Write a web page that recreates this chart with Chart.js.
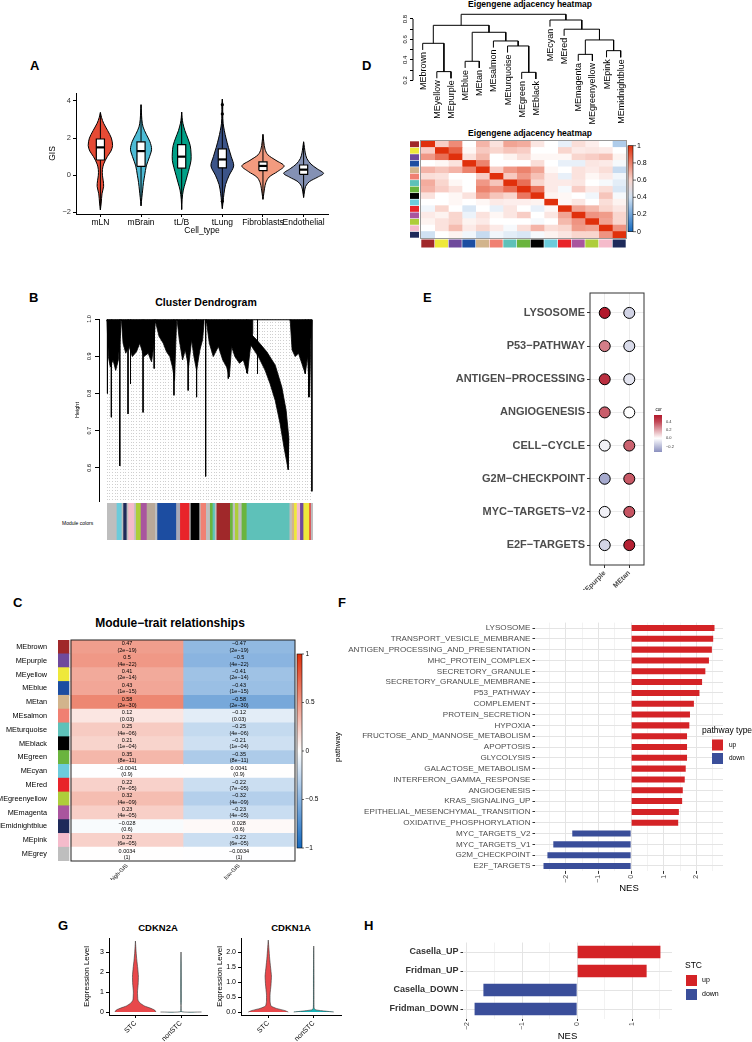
<!DOCTYPE html>
<html>
<head>
<meta charset="utf-8">
<title>GIS / WGCNA figure</title>
<script src="https://cdn.jsdelivr.net/npm/chart.js@4.4.1/dist/chart.umd.min.js"></script>
<style>
  body { margin: 0; width: 752px; height: 1042px; position: relative; overflow: hidden; background: #fff; font-family: "Liberation Sans", Arial, sans-serif; }
  canvas { position: absolute; }
  .t { position: absolute; white-space: nowrap; font-weight: bold; color: #000; line-height: 1; }
  .c { transform: translateX(-50%); }
</style>
</head>
<body>
<div class="t" style="left:30px;top:59px;font-size:13px">A</div>
<div class="t" style="left:29px;top:291px;font-size:13px">B</div>
<div class="t" style="left:13px;top:596px;font-size:13px">C</div>
<div class="t" style="left:362px;top:59px;font-size:13px">D</div>
<div class="t" style="left:423px;top:291px;font-size:13px">E</div>
<div class="t" style="left:338px;top:596px;font-size:13px">F</div>
<div class="t" style="left:58px;top:919px;font-size:13px">G</div>
<div class="t" style="left:364px;top:919px;font-size:13px">H</div>
<div class="t c" style="left:530px;top:0px;font-size:8.5px">Eigengene adjacency heatmap</div>
<div class="t c" style="left:530px;top:129px;font-size:8.5px">Eigengene adjacency heatmap</div>
<div class="t c" style="left:206px;top:297px;font-size:10.5px">Cluster Dendrogram</div>
<div class="t c" style="left:170px;top:617px;font-size:12px">Module−trait relationships</div>
<div class="t c" style="left:158px;top:923px;font-size:9.5px">CDKN2A</div>
<div class="t c" style="left:291px;top:923px;font-size:9.5px">CDKN1A</div>
<div class="t" style="left:62px;top:521px;font-size:5px;font-weight:normal">Module colors</div>

<script>
// ---------- A: GIS by cell type (violins) ----------
const cellTypes = ['mLN', 'mBrain', 'tL/B', 'tLung', 'Fibroblasts', 'Endothelial'];
const cellColors = ['#E64B35', '#4DBBD5', '#00A087', '#3C5488', '#F39B7F', '#8491B4'];
const gisLevels = [
  [-1.87, -1.5, -1.0, -0.6, -0.3, 0.0, 0.3, 0.6, 1.0, 1.3, 1.6, 2.0, 2.4, 2.8, 3.1, 3.38],
  [-1.65, -1.2, -0.8, -0.4, 0.0, 0.5, 1.0, 1.4, 1.8, 2.2, 2.6, 3.0, 3.4, 3.8],
  [-1.85, -1.3, -0.8, -0.4, 0.0, 0.4, 0.8, 1.2, 1.6, 2.0, 2.4, 2.8, 3.1, 3.4],
  [-1.8, -1.4, -1.0, -0.5, 0.0, 0.5, 1.0, 1.5, 2.0, 2.4, 2.8, 3.3, 3.8, 4.1],
  [-1.3, -1.0, -0.7, -0.4, -0.1, 0.2, 0.5, 0.8, 1.1, 1.4, 1.8, 2.2],
  [-1.2, -0.9, -0.6, -0.35, -0.1, 0.1, 0.35, 0.6, 0.9, 1.2, 1.5, 1.8]
];
const gisWidths = [
  [0, 0.02, 0.04, 0.08, 0.07, 0.05, 0.05, 0.08, 0.17, 0.26, 0.30, 0.27, 0.18, 0.08, 0.03, 0],
  [0, 0.02, 0.04, 0.06, 0.09, 0.13, 0.21, 0.26, 0.22, 0.13, 0.05, 0.02, 0.01, 0],
  [0, 0.01, 0.04, 0.09, 0.14, 0.19, 0.23, 0.23, 0.21, 0.15, 0.08, 0.03, 0.01, 0],
  [0, 0.02, 0.04, 0.08, 0.17, 0.28, 0.22, 0.15, 0.09, 0.05, 0.02, 0.01, 0.01, 0],
  [0, 0.02, 0.04, 0.07, 0.15, 0.36, 0.52, 0.32, 0.12, 0.05, 0.02, 0],
  [0, 0.02, 0.05, 0.14, 0.35, 0.49, 0.33, 0.18, 0.08, 0.04, 0.02, 0]
];
const gisBox = [[0.82, 1.5, 1.95], [0.48, 1.3, 1.8], [0.38, 1.0, 1.65], [0.4, 0.85, 1.42], [0.25, 0.5, 0.72], [0.05, 0.3, 0.55]];
const gisOutliers = [[], [], [], [3.8, 3.3, -1.4], [], []];
const gisTicks = [-2, 0, 2, 4];

// ---------- B: cluster dendrogram (traced outlines, x = % of genes) ----------
const dendroShapes = [
  [[0, 0.998], [0, 0.994], [0.65, 0.899], [1.6, 0.871], [2.9, 0.89], [4.2, 0.862], [5.5, 0.89], [6.5, 0.962], [6.5, 0.998]],
  [[7.0, 0.998], [7.0, 0.994], [7.8, 0.935], [9.1, 0.908], [10.7, 0.926], [12.3, 0.899], [14.3, 0.912], [15.9, 0.935], [17.9, 0.899], [20.0, 0.908], [21.6, 0.885], [22.7, 0.926], [23.4, 0.989], [23.4, 0.998]],
  [[23.7, 0.998], [23.7, 0.989], [25.3, 0.953], [27.3, 0.935], [28.9, 0.912], [30.5, 0.899], [31.8, 0.871], [32.8, 0.835], [33.4, 0.935], [33.8, 0.994], [33.8, 0.998]],
  [[34.1, 0.998], [34.1, 0.994], [35.1, 0.944], [36.7, 0.89], [38.0, 0.917], [39.6, 0.871], [41.1, 0.944], [42.2, 0.899], [43.5, 0.862], [45.1, 0.917], [46.4, 0.944], [47.1, 0.989], [47.1, 0.998]],
  [[48.4, 0.998], [48.4, 0.989], [49.7, 0.935], [51.6, 0.899], [54.1, 0.926], [56.2, 0.89], [58.1, 0.871], [59.4, 0.844], [60.5, 0.926], [62.1, 0.899], [64.3, 0.881], [66.2, 0.89], [68.2, 0.853], [69.5, 0.917], [70.8, 0.962], [70.8, 0.998]],
  [[61.4, 0.985], [67.9, 0.971], [72.7, 0.944], [77.6, 0.912], [81.7, 0.876], [84.9, 0.817], [87.0, 0.754], [88.3, 0.681], [88.0, 0.595], [86.0, 0.654], [84.1, 0.718], [81.7, 0.781], [79.2, 0.826], [76.8, 0.862], [73.5, 0.899], [70.3, 0.926], [66.2, 0.953], [62.2, 0.967]],
  [[89.0, 0.998], [89.0, 0.994], [89.9, 0.917], [91.4, 0.899], [93.0, 0.908], [94.6, 0.881], [96.3, 0.853], [97.4, 0.899], [98.4, 0.79], [99.0, 0.944], [99.5, 0.994], [99.5, 0.998]]
];
const dendroDrops = [[0.2, 0.8], [2.1, 0.736], [6.2, 0.605], [10.2, 0.745], [11.4, 0.826], [17.5, 0.749], [22.9, 0.867], [32.5, 0.795],
  [39.4, 0.808], [43.5, 0.79], [47.9, 0.577], [58.9, 0.84], [67.9, 0.855], [73.1, 0.853], [96.3, 0.853], [97.9, 0.79], [99.5, 0.537]];
const dendroTop = 0.998;
const dendroTicks = [0.6, 0.7, 0.8, 0.9, 1.0];
const moduleSegColors = ['#BEBEBE', '#6CCBDB', '#BEBEBE', '#1E2A5A', '#BEBEBE', '#F5BBCB', '#BEBEBE', '#AECD3A', '#A9559E', '#B9A999', '#BEBEBE', '#1C4DA1',
  '#A7A9B8', '#E8242A', '#BEBEBE', '#000000', '#BEBEBE', '#F08072', '#BEBEBE', '#6AB43E', '#5EC1B9', '#BEBEBE', '#A0282A', '#6AB43E', '#BEBEBE',
  '#AECD3A', '#BEBEBE', '#6AB43E', '#5EC1B9', '#BEBEBE', '#D2B48C', '#EEE83A', '#F5BBCB', '#6F4A9C', '#EEE83A', '#E8242A', '#BEBEBE'];
const moduleSegWidths = [4.5, 2.4, 0.8, 1.6, 0.8, 2.9, 0.8, 2.3, 2.9, 4.0, 1.1, 9.1,
  1.9, 4.5, 0.6, 4.2, 0.6, 2.6, 1.9, 1.3, 1.1, 0.8, 6.5, 1.3, 1.1,
  1.6, 1.6, 2.4, 20.7, 1.1, 1.1, 1.3, 1.6, 1.6, 2.9, 0.6, 1.3];

// ---------- C: module-trait relationships ----------
const traitModules = ['MEbrown', 'MEpurple', 'MEyellow', 'MEblue', 'MEtan', 'MEsalmon', 'MEturquoise', 'MEblack', 'MEgreen', 'MEcyan',
  'MEred', 'MEgreenyellow', 'MEmagenta', 'MEmidnightblue', 'MEpink', 'MEgrey'];
const traits = ['high-GIS', 'low-GIS'];
const corHigh = [0.47, 0.5, 0.41, 0.43, 0.58, 0.12, 0.25, 0.21, 0.35, -0.0041, 0.22, 0.32, 0.23, -0.028, 0.22, 0.0034];
const corLow = [-0.47, -0.5, -0.41, -0.43, -0.58, -0.12, -0.25, -0.21, -0.35, 0.0041, -0.22, -0.32, -0.23, 0.028, -0.22, -0.0034];
const corP = ['2e-19', '4e-22', '2e-14', '1e-15', '2e-30', '0.03', '4e-06', '1e-04', '8e-11', '0.9', '7e-05', '4e-09', '4e-05', '0.6', '6e-05', '1'];
const corBarTicks = [1, 0.5, 0, -0.5, -1];

// ---------- D: eigengene dendrogram + adjacency ----------
const adjNames = ['MEbrown', 'MEyellow', 'MEpurple', 'MEblue', 'MEtan', 'MEsalmon', 'MEturquoise', 'MEgreen', 'MEblack', 'MEcyan',
  'MEred', 'MEmagenta', 'MEgreenyellow', 'MEpink', 'MEmidnightblue'];
// hclust style: negative = leaf (1-based position), positive = earlier merge
const adjMerges = [[-8, -9, 0.278], [-2, -3, 0.285], [-4, -5, 0.386], [-12, -13, 0.454], [-14, -15, 0.49], [-7, 1, 0.536], [-1, 2, 0.562],
  [-6, 6, 0.585], [4, 5, 0.595], [3, 8, 0.67], [-11, 9, 0.70], [7, 10, 0.738], [-10, 11, 0.79], [12, 13, 0.846]];
const adjHang = 0.065;
const adjTicks = [0.2, 0.3, 0.4, 0.5, 0.6, 0.7, 0.8];
const adjMatrix = [
  [1, 0.62, 0.78, 0.5, 0.68, 0.57, 0.72, 0.7, 0.56, 0.5, 0.45, 0.58, 0.54, 0.5, 0.33],
  [0.62, 1, 0.88, 0.52, 0.63, 0.6, 0.64, 0.62, 0.5, 0.5, 0.6, 0.55, 0.56, 0.55, 0.5],
  [0.75, 0.85, 1, 0.57, 0.67, 0.5, 0.53, 0.58, 0.52, 0.52, 0.52, 0.6, 0.62, 0.65, 0.53],
  [0.5, 0.52, 0.57, 1, 0.8, 0.5, 0.5, 0.5, 0.58, 0.5, 0.45, 0.45, 0.56, 0.55, 0.48],
  [0.68, 0.64, 0.68, 0.8, 1, 0.62, 0.75, 0.8, 0.72, 0.52, 0.5, 0.57, 0.55, 0.58, 0.38],
  [0.58, 0.57, 0.5, 0.5, 0.62, 1, 0.63, 0.75, 0.65, 0.55, 0.45, 0.57, 0.52, 0.55, 0.47],
  [0.7, 0.6, 0.52, 0.5, 0.75, 0.64, 1, 0.85, 0.6, 0.55, 0.55, 0.56, 0.5, 0.48, 0.44],
  [0.68, 0.62, 0.57, 0.5, 0.8, 0.76, 0.85, 1, 0.84, 0.55, 0.48, 0.62, 0.55, 0.58, 0.42],
  [0.57, 0.5, 0.52, 0.57, 0.73, 0.64, 0.6, 0.83, 1, 0.53, 0.52, 0.5, 0.47, 0.64, 0.48],
  [0.5, 0.5, 0.52, 0.5, 0.52, 0.55, 0.54, 0.54, 0.53, 1, 0.52, 0.56, 0.5, 0.58, 0.53],
  [0.47, 0.6, 0.5, 0.42, 0.5, 0.45, 0.56, 0.5, 0.45, 0.52, 1, 0.72, 0.67, 0.6, 0.56],
  [0.55, 0.53, 0.6, 0.46, 0.57, 0.52, 0.56, 0.62, 0.5, 0.56, 0.72, 1, 0.76, 0.74, 0.6],
  [0.53, 0.57, 0.6, 0.53, 0.55, 0.5, 0.5, 0.5, 0.48, 0.5, 0.67, 0.76, 1, 0.72, 0.6],
  [0.5, 0.57, 0.66, 0.55, 0.6, 0.55, 0.48, 0.58, 0.68, 0.58, 0.6, 0.74, 0.72, 1, 0.76],
  [0.4, 0.5, 0.53, 0.47, 0.38, 0.47, 0.44, 0.42, 0.48, 0.53, 0.56, 0.6, 0.6, 0.76, 1]
];
const adjBarTicks = [0, 0.2, 0.4, 0.6, 0.8, 1];

// ---------- E: pathway correlation dots ----------
const pathwaysE = ['LYSOSOME', 'P53−PATHWAY', 'ANTIGEN−PROCESSING', 'ANGIOGENESIS', 'CELL−CYCLE', 'G2M−CHECKPOINT', 'MYC−TARGETS−V2', 'E2F−TARGETS'];
const meCols = ['MEpurple', 'MEtan'];
const corPurple = [0.5, 0.28, 0.45, 0.35, -0.04, -0.25, -0.04, -0.12];
const corTan = [-0.13, -0.11, -0.08, 0.0, 0.34, 0.36, 0.37, 0.48];
const corLegendTicks = [0.4, 0.2, 0.0, -0.2];

// ---------- F: GSEA NES ----------
const nesPathways = ['LYSOSOME', 'TRANSPORT_VESICLE_MEMBRANE', 'ANTIGEN_PROCESSING_AND_PRESENTATION', 'MHC_PROTEIN_COMPLEX', 'SECRETORY_GRANULE',
  'SECRETORY_GRANULE_MEMBRANE', 'P53_PATHWAY', 'COMPLEMENT', 'PROTEIN_SECRETION', 'HYPOXIA', 'FRUCTOSE_AND_MANNOSE_METABOLISM', 'APOPTOSIS',
  'GLYCOLYSIS', 'GALACTOSE_METABOLISM', 'INTERFERON_GAMMA_RESPONSE', 'ANGIOGENESIS', 'KRAS_SIGNALING_UP', 'EPITHELIAL_MESENCHYMAL_TRANSITION',
  'OXIDATIVE_PHOSPHORYLATION', 'MYC_TARGETS_V2', 'MYC_TARGETS_V1', 'G2M_CHECKPOINT', 'E2F_TARGETS'];
const nesValues = [2.55, 2.51, 2.47, 2.38, 2.27, 2.17, 2.09, 1.92, 1.80, 1.78, 1.71, 1.71, 1.71, 1.67, 1.64, 1.58, 1.56, 1.46, 1.44, -1.80, -2.38, -2.56, -2.68];
const nesTicks = [-2.5, -2, -1.5, -1, -0.5, 0, 0.5, 1, 1.5, 2, 2.5];

// ---------- G: senescence genes ----------
const stcGroups = ['STC', 'nonSTC'];
const stcColors = ['#E8484B', '#17B3B7'];
const cdkn2aLevels = [[0, 0.1, 0.2, 0.3, 0.45, 0.6, 1.0, 1.4, 1.8, 2.2, 2.6, 3.0, 3.55], [0, 0.02, 0.5, 1.0, 1.5, 2.0, 2.5, 3.0]];
const cdkn2aWidths = [[0.45, 0.42, 0.32, 0.2, 0.1, 0.055, 0.045, 0.06, 0.065, 0.05, 0.03, 0.015, 0], [0.45, 0.006, 0.006, 0.006, 0.006, 0.005, 0.004, 0]];
const cdkn2aTicks = [0, 1, 2, 3];
const cdkn1aLevels = [[0, 0.05, 0.12, 0.2, 0.35, 0.6, 0.9, 1.2, 1.5, 1.8, 2.1, 2.4], [0, 0.03, 0.07, 0.12, 0.5, 1.0, 1.5, 2.0, 2.2]];
const cdkn1aWidths = [[0.44, 0.36, 0.18, 0.06, 0.04, 0.04, 0.06, 0.07, 0.05, 0.03, 0.015, 0], [0.44, 0.25, 0.05, 0.01, 0.006, 0.006, 0.005, 0.003, 0]];
const cdkn1aTicks = [0, 0.5, 1, 1.5, 2];

// ---------- H: STC signatures ----------
const stcSets = ['Casella_UP', 'Fridman_UP', 'Casella_DOWN', 'Fridman_DOWN'];
const stcNes = [1.51, 1.26, -1.70, -1.86];
const stcTicks = [-2, -1.5, -1, -0.5, 0, 0.5, 1, 1.5];

// ---------- colours ----------
const RED = '#D42326', BLUE = '#3A4E9A';
const meColor = { MEbrown: '#A0282A', MEpurple: '#6F4A9C', MEyellow: '#EEE83A', MEblue: '#1C4DA1', MEtan: '#D2B48C', MEsalmon: '#F08072',
  MEturquoise: '#5EC1B9', MEblack: '#000000', MEgreen: '#6AB43E', MEcyan: '#6CCBDB', MEred: '#E8242A', MEgreenyellow: '#AECD3A',
  MEmagenta: '#A9559E', MEmidnightblue: '#1E2A5A', MEpink: '#F5BBCB', MEgrey: '#BEBEBE' };

function rgb(h) { return [1, 3, 5].map(i => parseInt(h.substr(i, 2), 16)); }
function mix(a, b, t) {
  const A = rgb(a), B = rgb(b);
  t = Math.max(0, Math.min(1, t));
  return 'rgb(' + A.map((v, i) => Math.round(v + (B[i] - v) * t)).join(',') + ')';
}
function diverge(v, lo, mid, hi, cLo, cHi) {
  return v >= mid ? mix('#FFFFFF', cHi, (v - mid) / (hi - mid)) : mix('#FFFFFF', cLo, (mid - v) / (mid - lo));
}
const traitColor = v => diverge(v, -1, 0, 1, '#1469C0', '#E0300C');
const adjColor = v => diverge(v, 0, 0.5, 1, '#1469C0', '#E0300C');
const dotColor = v => diverge(v, -0.33, 0, 0.5, '#8A8FBE', '#B2182B');
const minus = v => (v < 0 ? '−' + Math.abs(v) : String(v));

// ---------- helpers ----------
Chart.defaults.font.family = '"Liberation Sans", Arial, sans-serif';
Chart.defaults.color = '#000';

function mk(left, top, w, h) {
  const cv = document.createElement('canvas');
  cv.width = w; cv.height = h;
  cv.style.left = left + 'px'; cv.style.top = top + 'px';
  cv.style.width = w + 'px'; cv.style.height = h + 'px';
  document.body.appendChild(cv);
  return cv;
}
function base(o) {
  return Object.assign({
    responsive: false, animation: false, devicePixelRatio: 1, events: [],
    elements: { point: { radius: 0 }, line: { borderWidth: 1 } },
    plugins: { legend: { display: false }, tooltip: { enabled: false } }
  }, o);
}
const fixW = w => s => { s.width = w; };
const fixH = h => s => { s.height = h; };
const setTicks = vals => s => { s.ticks = vals.map(v => ({ value: v })); };

function violin(center, ys, hw) {
  const right = ys.map((y, k) => ({ x: center + hw[k], y }));
  const left = ys.map((y, k) => ({ x: center - hw[k], y })).reverse();
  return right.concat(left);
}

// ================= A =================
const aSets = [];
cellTypes.forEach((name, i) => {
  const c = i + 1, ys = gisLevels[i];
  const [q1, md, q3] = gisBox[i];
  aSets.push({ data: violin(c, ys, gisWidths[i]), fill: 'shape', backgroundColor: cellColors[i], borderColor: '#000', borderWidth: 1, tension: 0.3, order: 4 });
  aSets.push({ data: [{ x: c, y: ys[0] }, { x: c, y: ys[ys.length - 1] }], borderColor: '#000', borderWidth: 1, order: 3 });
  aSets.push({ data: [{ x: c - 0.1, y: q1 }, { x: c + 0.1, y: q1 }, { x: c + 0.1, y: q3 }, { x: c - 0.1, y: q3 }, { x: c - 0.1, y: q1 }],
    fill: 'shape', backgroundColor: '#fff', borderColor: '#000', borderWidth: 1.2, order: 2 });
  aSets.push({ data: [{ x: c - 0.1, y: md }, { x: c + 0.1, y: md }], borderColor: '#000', borderWidth: 2.2, order: 1 });
  if (gisOutliers[i].length) {
    aSets.push({ data: gisOutliers[i].map(y => ({ x: c, y })), showLine: false, pointRadius: 1.6, pointBackgroundColor: '#000', pointBorderWidth: 0, order: 0 });
  }
});
new Chart(mk(45, 85, 295, 155), {
  type: 'line',
  data: { datasets: aSets },
  options: base({
    layout: { padding: { top: 8, right: 12 } },
    scales: {
      x: { type: 'linear', min: 0.4, max: 6.6, afterBuildTicks: setTicks(cellTypes.map((_, i) => i + 1)), afterFit: fixH(26),
        ticks: { autoSkip: false, minRotation: 0, maxRotation: 0, callback: v => cellTypes[v - 1], font: { size: 8.5 }, color: '#000', padding: 1 },
        grid: { drawOnChartArea: false, tickLength: 3, tickColor: '#000' }, border: { color: '#000' },
        title: { display: true, text: 'Cell_type', font: { size: 8.5 }, color: '#000', padding: { top: 0, bottom: 4 } } },
      y: { type: 'linear', min: -2.09, max: 4.43, afterBuildTicks: setTicks(gisTicks), afterFit: fixW(31),
        ticks: { callback: minus, font: { size: 7.5 }, color: '#333', padding: 2 },
        grid: { drawOnChartArea: false, tickLength: 3, tickColor: '#000' }, border: { color: '#000' },
        title: { display: true, text: 'GIS', font: { size: 8.5 }, color: '#000', padding: { top: 3, bottom: 0 } } }
    }
  })
});

// ================= B =================
const guideTicks = [];
for (let u = 0; u <= 100; u += 1.3) guideTicks.push(u);
const bSets = dendroShapes.map(s => ({ data: s.map(p => ({ x: p[0], y: p[1] })), fill: 'shape', backgroundColor: '#000', borderColor: '#000', borderWidth: 0.8 }));
dendroDrops.forEach(d => bSets.push({ data: [{ x: d[0], y: dendroTop }, { x: d[0], y: d[1] }], borderColor: '#000', borderWidth: 1 }));
bSets.push({ data: [{ x: 0, y: dendroTop }, { x: 99.5, y: dendroTop }], borderColor: '#000', borderWidth: 1.2 });
new Chart(mk(70, 315, 260, 190), {
  type: 'line',
  data: { datasets: bSets },
  options: base({
    layout: { padding: { top: 4, bottom: 4, right: 14 } },
    scales: {
      x: { type: 'linear', min: -3.9, max: 101.5, afterBuildTicks: setTicks(guideTicks), afterFit: fixH(0),
        ticks: { display: false }, grid: { color: '#9A9A9A', lineWidth: 0.6, drawTicks: false }, border: { display: false, dash: [0.8, 2.2] } },
      y: { type: 'linear', min: 0.511, max: 1.0, afterBuildTicks: setTicks(dendroTicks), afterFit: fixW(29),
        ticks: { display: false }, grid: { drawOnChartArea: false, tickLength: 4, tickColor: '#000' }, border: { color: '#000' },
        title: { display: true, text: 'Height', font: { size: 5.5 }, color: '#000', padding: { top: 3.7, bottom: 0 } } }
    }
  }),
  plugins: [{
    id: 'rotTicksB',
    afterDraw(chart) {
      const { ctx, chartArea: a, scales: { y } } = chart;
      ctx.save();
      ctx.font = '5.5px "Liberation Sans", Arial';
      ctx.fillStyle = '#000'; ctx.textAlign = 'center'; ctx.textBaseline = 'middle';
      dendroTicks.forEach(v => {
        ctx.save();
        ctx.translate(a.left - 9.5, y.getPixelForValue(v));
        ctx.rotate(-Math.PI / 2);
        ctx.fillText(v.toFixed(1), 0, 0);
        ctx.restore();
      });
      ctx.restore();
    }
  }]
});

// module colour strip
new Chart(mk(70, 502, 260, 40), {
  type: 'bar',
  data: { labels: [''], datasets: moduleSegColors.map((c, i) => ({ data: [moduleSegWidths[i]], backgroundColor: c, barPercentage: 1, categoryPercentage: 1 })) },
  options: base({
    indexAxis: 'y',
    layout: { padding: { left: 37, right: 17, top: 1, bottom: 2 } },
    scales: {
      x: { stacked: true, min: 0, max: moduleSegWidths.reduce((s, w) => s + w, 0), display: false },
      y: { stacked: true, display: false }
    }
  })
});

// ================= C =================
const swatchW = 0.098, gapW = 0.018, heatStart = swatchW + gapW;
new Chart(mk(0, 630, 340, 250), {
  type: 'bar',
  data: {
    labels: traitModules,
    datasets: [
      { data: traitModules.map(() => swatchW), backgroundColor: traitModules.map(m => meColor[m]), barPercentage: 1, categoryPercentage: 1 },
      { data: traitModules.map(() => gapW), backgroundColor: 'rgba(0,0,0,0)', barPercentage: 1, categoryPercentage: 1 },
      { data: traitModules.map(() => 1), backgroundColor: corHigh.map(traitColor), barPercentage: 1, categoryPercentage: 1 },
      { data: traitModules.map(() => 1), backgroundColor: corLow.map(traitColor), barPercentage: 1, categoryPercentage: 1 }
    ]
  },
  options: base({
    indexAxis: 'y',
    layout: { padding: { top: 10, bottom: 19, right: 45 } },
    scales: {
      x: { stacked: true, min: 0, max: heatStart + 2, display: false },
      y: { stacked: true, afterFit: fixW(58), ticks: { autoSkip: false, font: { size: 7.3 }, color: '#000', padding: 3 },
        grid: { display: false }, border: { display: false } }
    }
  }),
  plugins: [{
    id: 'traitDecor',
    afterDraw(chart) {
      const { ctx, chartArea: a, scales: { x } } = chart;
      const hl = x.getPixelForValue(heatStart);
      ctx.save();
      // cell text
      ctx.fillStyle = '#000'; ctx.textAlign = 'center'; ctx.textBaseline = 'middle';
      ctx.font = '5.5px "Liberation Sans", Arial';
      [corHigh, corLow].forEach((vals, d) => {
        chart.getDatasetMeta(d + 2).data.forEach((el, i) => {
          const cx = (el.x + el.base) / 2;
          ctx.fillText(minus(vals[i]), cx, el.y - 3);
          ctx.fillText('(' + corP[i].replace('-', '−') + ')', cx, el.y + 3.3);
        });
      });
      // frame
      ctx.strokeStyle = '#222'; ctx.lineWidth = 1;
      ctx.strokeRect(hl, a.top, a.right - hl, a.bottom - a.top);
      // trait labels
      ctx.textAlign = 'right';
      traits.forEach((t, j) => {
        ctx.save();
        ctx.translate(x.getPixelForValue(heatStart + j + 0.5), a.bottom + 4);
        ctx.rotate(-Math.PI / 4);
        ctx.fillText(t, 0, 0);
        ctx.restore();
      });
      // colour bar
      const bx = a.right + 2, y0 = a.top + 14, y1 = a.bottom - 13;
      const g = ctx.createLinearGradient(0, y0, 0, y1);
      corBarTicks.forEach(v => g.addColorStop((1 - v) / 2, traitColor(v)));
      ctx.fillStyle = g; ctx.fillRect(bx, y0, 5, y1 - y0);
      ctx.strokeStyle = '#000'; ctx.lineWidth = 0.6; ctx.strokeRect(bx, y0, 5, y1 - y0);
      ctx.fillStyle = '#000'; ctx.textAlign = 'left'; ctx.font = '6.5px "Liberation Sans", Arial';
      corBarTicks.forEach(v => {
        const py = y0 + (1 - v) / 2 * (y1 - y0);
        ctx.beginPath(); ctx.moveTo(bx + 5, py); ctx.lineTo(bx + 7, py); ctx.stroke();
        ctx.fillText(minus(v), bx + 8.5, py);
      });
      ctx.restore();
    }
  }]
});

// ================= D (dendrogram) =================
const mPos = [], mH = [], leafBottom = {};
const dSets = [];
adjMerges.forEach(([l, r, h]) => {
  const child = k => (k < 0 ? { x: -k, b: h - adjHang, leaf: -k } : { x: mPos[k - 1], b: mH[k - 1] });
  const L = child(l), R = child(r);
  [L, R].forEach(c => { if (c.leaf) leafBottom[c.leaf] = c.b; });
  mPos.push((L.x + R.x) / 2); mH.push(h);
  dSets.push({ data: [{ x: L.x, y: L.b }, { x: L.x, y: h }, { x: R.x, y: h }, { x: R.x, y: R.b }], borderColor: '#000', borderWidth: 1 });
});
new Chart(mk(380, 0, 372, 130), {
  type: 'line',
  data: { datasets: dSets },
  options: base({
    layout: { padding: { top: 10, bottom: 45, right: 120 } },
    scales: {
      x: { type: 'linear', min: 0.314, max: 15.8, display: false },
      y: { type: 'linear', min: 0.154, max: 0.888, afterBuildTicks: setTicks(adjTicks), afterFit: fixW(33),
        ticks: { display: false }, grid: { drawOnChartArea: false, tickLength: 3, tickColor: '#000' }, border: { display: false } }
    }
  }),
  plugins: [{
    id: 'leafLabels',
    afterDraw(chart) {
      const { ctx, chartArea: a, scales: { x, y } } = chart;
      ctx.save();
      ctx.strokeStyle = '#000'; ctx.lineWidth = 1;
      ctx.beginPath(); ctx.moveTo(a.left, y.getPixelForValue(0.2)); ctx.lineTo(a.left, y.getPixelForValue(0.8)); ctx.stroke();
      ctx.fillStyle = '#000'; ctx.textBaseline = 'middle';
      ctx.font = '6px "Liberation Sans", Arial'; ctx.textAlign = 'center';
      [0.2, 0.4, 0.6, 0.8].forEach(v => {
        ctx.save(); ctx.translate(a.left - 7.5, y.getPixelForValue(v)); ctx.rotate(-Math.PI / 2);
        ctx.fillText(v.toFixed(1), 0, 0); ctx.restore();
      });
      ctx.font = '9px "Liberation Sans", Arial'; ctx.textAlign = 'right';
      adjNames.forEach((n, i) => {
        ctx.save(); ctx.translate(x.getPixelForValue(i + 1), y.getPixelForValue(leafBottom[i + 1]) + 2); ctx.rotate(-Math.PI / 2);
        ctx.fillText(n, 0, 0.5); ctx.restore();
      });
      ctx.restore();
    }
  }]
});

// ================= D (adjacency heatmap) =================
new Chart(mk(380, 130, 372, 130), {
  type: 'bar',
  data: {
    labels: adjNames,
    datasets: adjNames.map((_, j) => ({ data: adjNames.map(() => 1), backgroundColor: adjMatrix.map(row => adjColor(row[j])), barPercentage: 1, categoryPercentage: 1 }))
  },
  options: base({
    indexAxis: 'y',
    layout: { padding: { left: 41, right: 126, top: 11, bottom: 22 } },
    scales: { x: { stacked: true, min: 0, max: adjNames.length, display: false }, y: { stacked: true, display: false } }
  }),
  plugins: [{
    id: 'adjDecor',
    afterDraw(chart) {
      const { ctx, chartArea: a, scales: { x } } = chart;
      const n = adjNames.length, band = (a.bottom - a.top) / n;
      ctx.save();
      adjNames.forEach((m, i) => {
        ctx.fillStyle = meColor[m];
        ctx.fillRect(a.left - 11, a.top + i * band + 0.3, 9, band - 0.6);
        ctx.fillRect(x.getPixelForValue(i) + 0.3, a.bottom + 1.5, x.getPixelForValue(i + 1) - x.getPixelForValue(i) - 0.6, 8);
      });
      ctx.strokeStyle = '#999'; ctx.lineWidth = 1;
      ctx.strokeRect(a.left - 0.5, a.top - 0.5, a.right - a.left + 1, a.bottom - a.top + 1);
      const bx = a.right + 2, y0 = a.top + 4.7, y1 = a.bottom - 6.3;
      const g = ctx.createLinearGradient(0, y0, 0, y1);
      adjBarTicks.forEach(v => g.addColorStop(1 - v, adjColor(v)));
      ctx.fillStyle = g; ctx.fillRect(bx, y0, 5, y1 - y0);
      ctx.strokeStyle = '#000'; ctx.lineWidth = 0.6; ctx.strokeRect(bx, y0, 5, y1 - y0);
      ctx.fillStyle = '#000'; ctx.font = '7px "Liberation Sans", Arial'; ctx.textAlign = 'left'; ctx.textBaseline = 'middle';
      adjBarTicks.forEach(v => {
        const py = y1 - v * (y1 - y0);
        ctx.beginPath(); ctx.moveTo(bx + 5, py); ctx.lineTo(bx + 8, py); ctx.stroke();
        ctx.fillText(v === 0 || v === 1 ? String(v) : v.toFixed(1), bx + 9, py);
      });
      ctx.restore();
    }
  }]
});

// ================= E =================
const ePoints = [], eColors = [];
pathwaysE.forEach((p, i) => {
  ePoints.push({ x: 1, y: i + 1 }); eColors.push(dotColor(corPurple[i]));
  ePoints.push({ x: 2, y: i + 1 }); eColors.push(dotColor(corTan[i]));
});
new Chart(mk(380, 284, 372, 306), {
  type: 'scatter',
  data: { datasets: [{ data: ePoints, pointBackgroundColor: eColors, pointBorderColor: '#000', pointBorderWidth: 1, pointRadius: 5.5 }] },
  options: base({
    layout: { padding: { top: 9, right: 108 } },
    scales: {
      x: { type: 'linear', min: 0.4, max: 2.6, afterBuildTicks: setTicks([1, 2]), afterFit: fixH(25),
        ticks: { autoSkip: false, minRotation: 45, maxRotation: 45, callback: v => meCols[v - 1], font: { size: 7, weight: 'bold' }, color: '#4D4D4D', padding: 1 },
        grid: { color: '#EBEBEB', tickColor: '#333', tickLength: 3 }, border: { display: false } },
      y: { type: 'linear', reverse: true, min: 0.4, max: 8.6, afterBuildTicks: setTicks(pathwaysE.map((_, i) => i + 1)), afterFit: fixW(210),
        ticks: { autoSkip: false, callback: v => pathwaysE[v - 1], font: { size: 11, weight: 'bold' }, color: '#4D4D4D', padding: 2 },
        grid: { color: '#EBEBEB', tickColor: '#333', tickLength: 3 }, border: { display: false } }
    }
  }),
  plugins: [{
    id: 'corLegend',
    afterDraw(chart) {
      const { ctx, chartArea: a } = chart;
      ctx.save();
      ctx.strokeStyle = '#333'; ctx.lineWidth = 1;
      ctx.strokeRect(a.left, a.top, a.right - a.left, a.bottom - a.top);
      const bx = 274, top = 131, h = 37, hi = 0.56, lo = -0.33;
      const g = ctx.createLinearGradient(0, top, 0, top + h);
      [hi, 0.4, 0.2, 0, -0.2, lo].forEach(v => g.addColorStop((hi - v) / (hi - lo), dotColor(v)));
      ctx.fillStyle = g; ctx.fillRect(bx, top, 8, h);
      ctx.fillStyle = '#000'; ctx.font = '4.5px "Liberation Sans", Arial'; ctx.textAlign = 'left'; ctx.textBaseline = 'middle';
      ctx.fillText('cor', bx + 1.5, 126);
      ctx.fillStyle = '#333'; ctx.font = '4px "Liberation Sans", Arial';
      corLegendTicks.forEach(v => {
        const py = top + (hi - v) / (hi - lo) * h;
        ctx.fillText(v < 0 ? '−' + Math.abs(v).toFixed(1) : v.toFixed(1), bx + 12, py);
      });
      ctx.restore();
    }
  }]
});

// ================= F =================
new Chart(mk(330, 610, 422, 290), {
  type: 'bar',
  data: { labels: nesPathways, datasets: [{ data: nesValues, backgroundColor: nesValues.map(v => (v > 0 ? RED : BLUE)), barPercentage: 0.56, categoryPercentage: 1 }] },
  options: base({
    indexAxis: 'y',
    layout: { padding: { top: 12.6, right: 29 } },
    scales: {
      x: { type: 'linear', min: -2.94, max: 2.81, afterBuildTicks: setTicks(nesTicks), afterFit: fixH(28.6),
        ticks: { autoSkip: false, minRotation: 90, maxRotation: 90, callback: v => (Number.isInteger(v) ? minus(v) : ''), font: { size: 7 }, color: '#4D4D4D', padding: 1 },
        grid: { color: c => (Number.isInteger(c.tick.value) ? '#E4E4E4' : '#F2F2F2'), tickColor: c => (Number.isInteger(c.tick.value) ? '#333' : 'rgba(0,0,0,0)'), tickLength: 2.5 },
        border: { display: false },
        title: { display: true, text: 'NES', font: { size: 9.5 }, color: '#000', padding: { top: 0, bottom: 6 } } },
      y: { afterFit: fixW(205), ticks: { autoSkip: false, font: { size: 8.1 }, color: '#4D4D4D', padding: 2 },
        grid: { offset: false, color: '#E4E4E4', tickColor: '#333', tickLength: 2.5 }, border: { display: false },
        title: { display: true, text: 'pathway', font: { size: 8 }, color: '#000', padding: { top: 3.2, bottom: 0 } } }
    }
  }),
  plugins: [{
    id: 'typeLegend',
    afterDraw(chart) {
      const { ctx } = chart;
      ctx.save();
      ctx.textAlign = 'left'; ctx.textBaseline = 'middle'; ctx.fillStyle = '#000';
      ctx.font = '8.5px "Liberation Sans", Arial';
      ctx.fillText('pathway type', 372, 121);
      ctx.fillStyle = RED; ctx.fillRect(382, 129.5, 11, 11);
      ctx.fillStyle = BLUE; ctx.fillRect(382, 143, 11, 11);
      ctx.fillStyle = '#000'; ctx.font = '6.5px "Liberation Sans", Arial';
      ctx.fillText('up', 399, 135); ctx.fillText('down', 399, 148.5);
      ctx.restore();
    }
  }]
});

// ================= G =================
function vlnChart(left, width, levels, widths, yMin, yMax, yTicks, tickFmt, xMin, xMax, titlePad) {
  const sets = stcGroups.map((g, i) => ({ data: violin(i + 1, levels[i], widths[i]), fill: 'shape', backgroundColor: stcColors[i], borderColor: '#333', borderWidth: 0.6, tension: 0.15 }));
  new Chart(mk(left, 931, width, 111), {
    type: 'line',
    data: { datasets: sets },
    options: base({
      layout: { padding: { top: 7, right: 5 } },
      scales: {
        x: { type: 'linear', min: xMin, max: xMax, afterBuildTicks: setTicks([1, 2]), afterFit: fixH(27),
          ticks: { autoSkip: false, minRotation: 45, maxRotation: 45, callback: v => stcGroups[v - 1], font: { size: 7 }, color: '#000', padding: 1 },
          grid: { drawOnChartArea: false, tickLength: 3, tickColor: '#000' }, border: { color: '#000' } },
        y: { type: 'linear', min: yMin, max: yMax, afterBuildTicks: setTicks(yTicks), afterFit: fixW(31),
          ticks: { callback: tickFmt, font: { size: 7 }, color: '#000', padding: 2 },
          grid: { drawOnChartArea: false, tickLength: 3, tickColor: '#000' }, border: { color: '#000' },
          title: { display: true, text: 'Expression Level', font: { size: 8 }, color: '#000', padding: { top: titlePad, bottom: 0 } } }
      }
    })
  });
}
vlnChart(78, 134, cdkn2aLevels, cdkn2aWidths, -0.15, 3.7, cdkn2aTicks, v => String(v), 0.42, 2.57, 4.2);
vlnChart(210, 136, cdkn1aLevels, cdkn1aWidths, -0.1, 2.47, cdkn1aTicks, v => v.toFixed(1), 0.4, 2.6, 5.2);

// ================= H =================
new Chart(mk(385, 935, 367, 107), {
  type: 'bar',
  data: { labels: stcSets, datasets: [{ data: stcNes, backgroundColor: stcNes.map(v => (v > 0 ? RED : BLUE)), barPercentage: 0.65, categoryPercentage: 1 }] },
  options: base({
    indexAxis: 'y',
    layout: { padding: { top: 7.5, right: 80 } },
    scales: {
      x: { type: 'linear', min: -2.07, max: 1.72, afterBuildTicks: setTicks(stcTicks), afterFit: fixH(23.5),
        ticks: { autoSkip: false, minRotation: 90, maxRotation: 90, callback: v => (Number.isInteger(v) ? minus(v) : ''), font: { size: 7 }, color: '#4D4D4D', padding: 1 },
        grid: { color: c => (Number.isInteger(c.tick.value) ? '#E4E4E4' : '#F2F2F2'), tickColor: c => (Number.isInteger(c.tick.value) ? '#333' : 'rgba(0,0,0,0)'), tickLength: 2.5 },
        border: { display: false },
        title: { display: true, text: 'NES', font: { size: 9.5 }, color: '#000', padding: { top: 0, bottom: 0 } } },
      y: { afterFit: fixW(78), ticks: { autoSkip: false, font: { size: 9, weight: 'bold' }, color: '#333', padding: 2 },
        grid: { offset: false, color: '#E4E4E4', tickColor: '#333', tickLength: 2.5 }, border: { display: false } }
    }
  }),
  plugins: [{
    id: 'stcLegend',
    afterDraw(chart) {
      const { ctx } = chart;
      ctx.save();
      ctx.textAlign = 'left'; ctx.textBaseline = 'middle'; ctx.fillStyle = '#000';
      ctx.font = '8.5px "Liberation Sans", Arial';
      ctx.fillText('STC', 300, 31);
      ctx.fillStyle = RED; ctx.fillRect(301, 40, 11, 11);
      ctx.fillStyle = BLUE; ctx.fillRect(301, 54, 11, 11);
      ctx.fillStyle = '#000'; ctx.font = '7px "Liberation Sans", Arial';
      ctx.fillText('up', 317, 45.5); ctx.fillText('down', 317, 59.5);
      ctx.restore();
    }
  }]
});
</script>
</body>
</html>
